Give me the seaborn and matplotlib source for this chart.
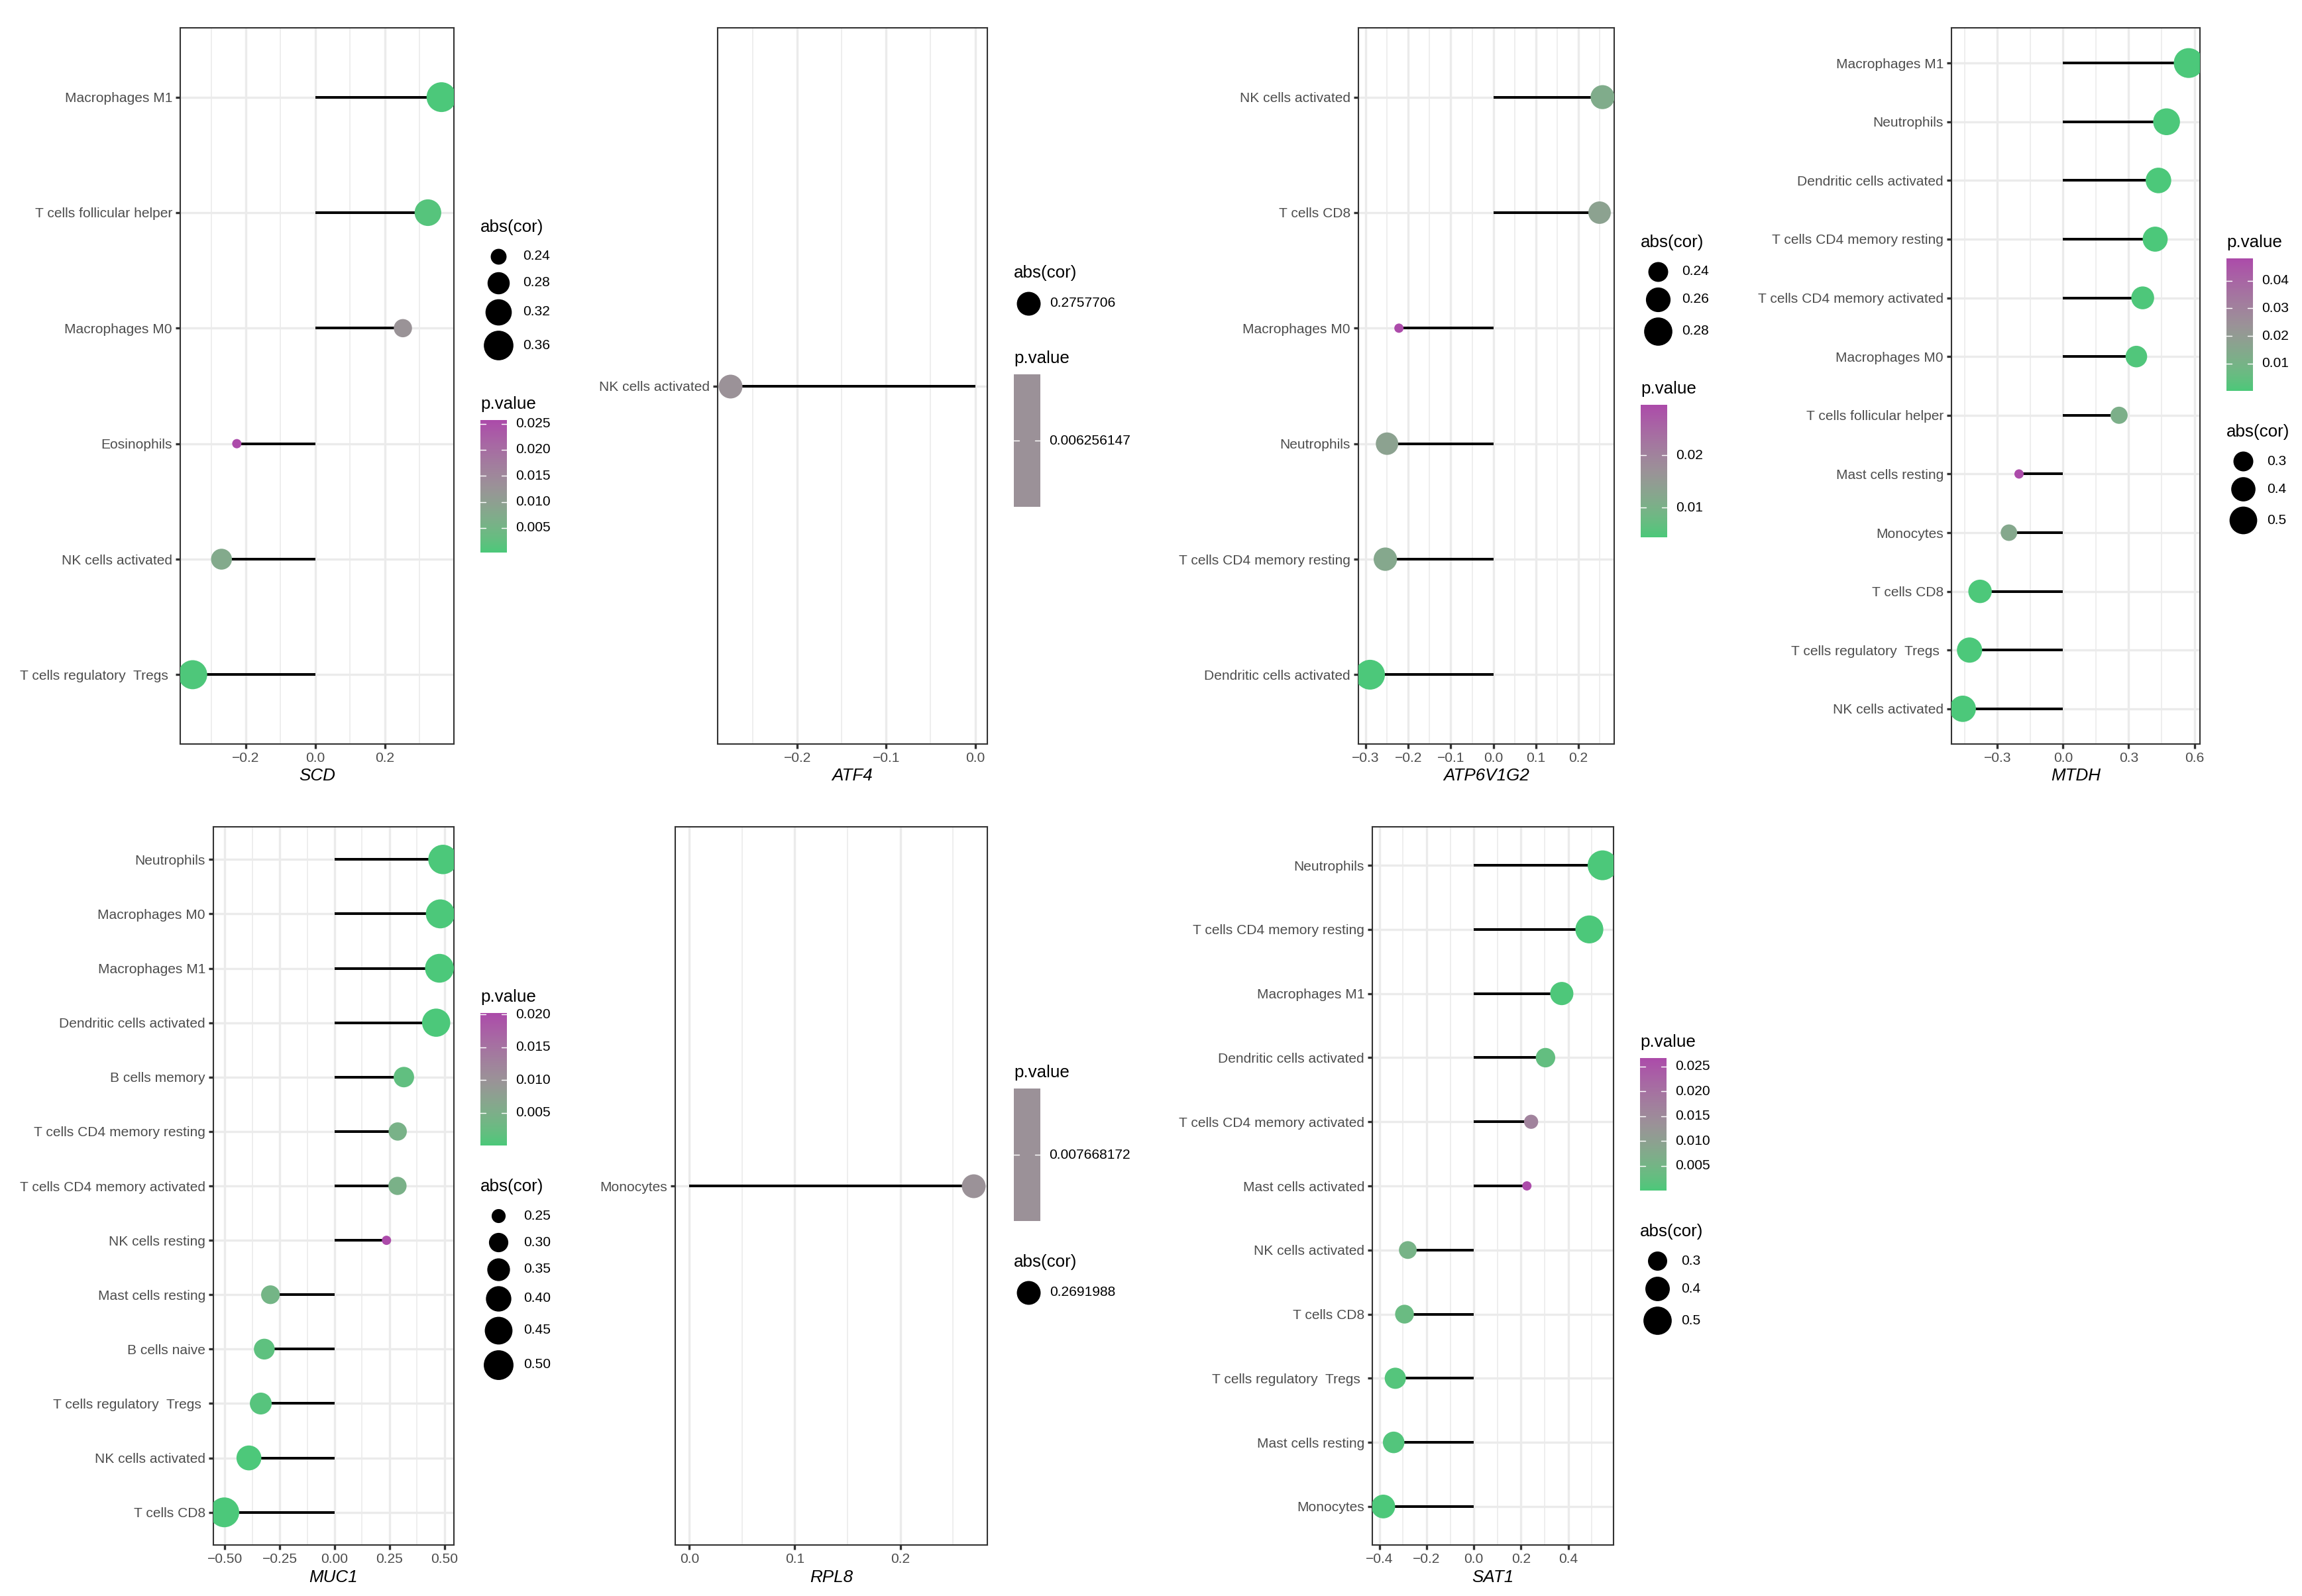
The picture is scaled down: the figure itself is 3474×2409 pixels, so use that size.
import numpy as np
import pandas as pd
import matplotlib
matplotlib.use("Agg")
import matplotlib.pyplot as plt
from matplotlib.colors import ListedColormap
import seaborn as sns

sns.set_theme(style="white")
plt.rcParams['font.family'] = ['Liberation Sans', 'DejaVu Sans']
plt.rcParams['axes.unicode_minus'] = True

# ------------------------------------------------------------------ data
scd_cells = ["Macrophages M1", "T cells follicular helper", "Macrophages M0",
             "Eosinophils", "NK cells activated", "T cells regulatory  Tregs "]
scd_cor = [0.363, 0.324, 0.252, -0.226, -0.270, -0.353]
scd_p = [0.00026, 0.0012, 0.0127, 0.0257, 0.0075, 0.0004]

atf4_cells = ["NK cells activated"]
atf4_cor = [-0.2757706]
atf4_p = [0.006256147]

atp_cells = ["NK cells activated", "T cells CD8", "Macrophages M0", "Neutrophils",
             "T cells CD4 memory resting", "Dendritic cells activated"]
atp_cor = [0.257, 0.250, -0.222, -0.250, -0.254, -0.290]
atp_p = [0.0110, 0.0135, 0.0296, 0.0135, 0.0120, 0.0043]

mtdh_cells = ["Macrophages M1", "Neutrophils", "Dendritic cells activated",
              "T cells CD4 memory resting", "T cells CD4 memory activated",
              "Macrophages M0", "T cells follicular helper", "Mast cells resting",
              "Monocytes", "T cells CD8", "T cells regulatory  Tregs ",
              "NK cells activated"]
mtdh_cor = [0.574, 0.473, 0.436, 0.421, 0.364, 0.335, 0.256, -0.201, -0.247,
            -0.379, -0.427, -0.458]
mtdh_p = [1e-9, 1e-6, 8e-6, 2e-5, 0.00025, 0.0008, 0.0114, 0.0480, 0.0147,
          0.00013, 1.3e-5, 2.4e-6]

muc1_cells = ["Neutrophils", "Macrophages M0", "Macrophages M1",
              "Dendritic cells activated", "B cells memory",
              "T cells CD4 memory resting", "T cells CD4 memory activated",
              "NK cells resting", "Mast cells resting", "B cells naive",
              "T cells regulatory  Tregs ", "NK cells activated", "T cells CD8"]
muc1_cor = [0.493, 0.481, 0.477, 0.462, 0.315, 0.287, 0.286, 0.236, -0.292,
            -0.320, -0.336, -0.390, -0.502]
muc1_p = [3e-7, 6e-7, 8e-7, 2e-6, 0.0017, 0.0044, 0.0045, 0.0202, 0.0037,
          0.0014, 0.0008, 8e-5, 2e-7]

rpl8_cells = ["Monocytes"]
rpl8_cor = [0.2691988]
rpl8_p = [0.007668172]

sat1_cells = ["Neutrophils", "T cells CD4 memory resting", "Macrophages M1",
              "Dendritic cells activated", "T cells CD4 memory activated",
              "Mast cells activated", "NK cells activated", "T cells CD8",
              "T cells regulatory  Tregs ", "Mast cells resting", "Monocytes"]
sat1_cor = [0.546, 0.490, 0.373, 0.304, 0.243, 0.225, -0.280, -0.294,
            -0.333, -0.340, -0.384]
sat1_p = [1e-8, 4e-7, 0.00017, 0.0025, 0.0165, 0.0267, 0.0055, 0.0035,
          0.0009, 0.0007, 0.0001]

# axis ticks / legend breaks
scd_xt = [-0.2, 0.0, 0.2]; scd_xl = ["-0.2", "0.0", "0.2"]; scd_xm = [-0.3, -0.1, 0.1, 0.3]
atf4_xt = [-0.2, -0.1, 0.0]; atf4_xl = ["-0.2", "-0.1", "0.0"]; atf4_xm = [-0.25, -0.15, -0.05]
atp_xt = [-0.3, -0.2, -0.1, 0.0, 0.1, 0.2]; atp_xl = ["-0.3", "-0.2", "-0.1", "0.0", "0.1", "0.2"]
atp_xm = [-0.25, -0.15, -0.05, 0.05, 0.15, 0.25]
mtdh_xt = [-0.3, 0.0, 0.3, 0.6]; mtdh_xl = ["-0.3", "0.0", "0.3", "0.6"]; mtdh_xm = [-0.45, -0.15, 0.15, 0.45]
muc1_xt = [-0.5, -0.25, 0.0, 0.25, 0.5]; muc1_xl = ["-0.50", "-0.25", "0.00", "0.25", "0.50"]
muc1_xm = [-0.375, -0.125, 0.125, 0.375]
rpl8_xt = [0.0, 0.1, 0.2]; rpl8_xl = ["0.0", "0.1", "0.2"]; rpl8_xm = [0.05, 0.15, 0.25]
sat1_xt = [-0.4, -0.2, 0.0, 0.2, 0.4]; sat1_xl = ["-0.4", "-0.2", "0.0", "0.2", "0.4"]
sat1_xm = [-0.3, -0.1, 0.1, 0.3, 0.5]

scd_sb = [0.24, 0.28, 0.32, 0.36]; scd_sl = ["0.24", "0.28", "0.32", "0.36"]
scd_pb = [0.005, 0.010, 0.015, 0.020, 0.025]; scd_pl = ["0.005", "0.010", "0.015", "0.020", "0.025"]
atf4_sb = [0.2757706]; atf4_sl = ["0.2757706"]
atf4_pb = [0.006256147]; atf4_pl = ["0.006256147"]
atp_sb = [0.24, 0.26, 0.28]; atp_sl = ["0.24", "0.26", "0.28"]
atp_pb = [0.01, 0.02]; atp_pl = ["0.01", "0.02"]
mtdh_sb = [0.3, 0.4, 0.5]; mtdh_sl = ["0.3", "0.4", "0.5"]
mtdh_pb = [0.01, 0.02, 0.03, 0.04]; mtdh_pl = ["0.01", "0.02", "0.03", "0.04"]
muc1_sb = [0.25, 0.30, 0.35, 0.40, 0.45, 0.50]
muc1_sl = ["0.25", "0.30", "0.35", "0.40", "0.45", "0.50"]
muc1_pb = [0.005, 0.010, 0.015, 0.020]; muc1_pl = ["0.005", "0.010", "0.015", "0.020"]
rpl8_sb = [0.2691988]; rpl8_sl = ["0.2691988"]
rpl8_pb = [0.007668172]; rpl8_pl = ["0.007668172"]
sat1_sb = [0.3, 0.4, 0.5]; sat1_sl = ["0.3", "0.4", "0.5"]
sat1_pb = [0.005, 0.010, 0.015, 0.020, 0.025]; sat1_pl = ["0.005", "0.010", "0.015", "0.020", "0.025"]

LOW_COL = (76, 200, 122)
MID_COL = (155, 146, 152)
HIGH_COL = (172, 75, 170)

# ------------------------------------------------------------------ helpers
W, H = 3474, 2409
DPI = 300
PX = 72.0 / DPI

_M = np.array([[0.4124564, 0.3575761, 0.1804375],
               [0.2126729, 0.7151522, 0.0721750],
               [0.0193339, 0.1191920, 0.9503041]])
_WHITE = np.array([0.95047, 1.0, 1.08883])


def _lin(c):
    c = np.asarray(c, float)
    return np.where(c <= 0.04045, c / 12.92, ((c + 0.055) / 1.055) ** 2.4)


def _gam(c):
    c = np.clip(c, 0, 1)
    return np.where(c <= 0.0031308, 12.92 * c, 1.055 * c ** (1 / 2.4) - 0.055)


def rgb2lab(rgb):
    xyz = _M @ _lin(np.asarray(rgb, float) / 255.0) / _WHITE
    e = 6 / 29
    f = np.where(xyz > e ** 3, np.cbrt(xyz), xyz / (3 * e ** 2) + 4 / 29)
    return np.array([116 * f[1] - 16, 500 * (f[0] - f[1]), 200 * (f[1] - f[2])])


def lab2rgb(lab):
    L, a, b = lab
    fy = (L + 16) / 116
    f = np.array([fy + a / 500, fy, fy - b / 200])
    e = 6 / 29
    xyz = np.where(f > e, f ** 3, 3 * e ** 2 * (f - 4 / 29)) * _WHITE
    return tuple(np.clip(_gam(np.linalg.solve(_M, xyz)), 0, 1))


_LAB_LO = rgb2lab(LOW_COL)
_LAB_MID = rgb2lab(MID_COL)
_LAB_HI = rgb2lab(HIGH_COL)


def grad_col(t):
    if t <= 0.5:
        return lab2rgb(_LAB_LO + (t / 0.5) * (_LAB_MID - _LAB_LO))
    return lab2rgb(_LAB_MID + ((t - 0.5) / 0.5) * (_LAB_HI - _LAB_MID))


CMAP = ListedColormap([grad_col(t) for t in np.linspace(0, 1, 256)])

GRID = "#EBEBEB"
DARK = "#333333"
TICKTXT = "#4D4D4D"
FS_TICK = 5.05
FS_TITLE = 6.25

fig = plt.figure(figsize=(W / DPI, H / DPI), dpi=DPI, facecolor="white")

panels = [
    dict(cells=scd_cells, cor=scd_cor, p=scd_p, gene="SCD", box=(272, 42, 685, 1123),
         xt=scd_xt, xl=scd_xl, xm=scd_xm, sb=scd_sb, sl=scd_sl, pb=scd_pb, pl=scd_pl,
         order=["size", "col"]),
    dict(cells=atf4_cells, cor=atf4_cor, p=atf4_p, gene="ATF4", box=(1083, 42, 1490, 1123),
         xt=atf4_xt, xl=atf4_xl, xm=atf4_xm, sb=atf4_sb, sl=atf4_sl, pb=atf4_pb, pl=atf4_pl,
         order=["size", "col"]),
    dict(cells=atp_cells, cor=atp_cor, p=atp_p, gene="ATP6V1G2", box=(2050, 42, 2436, 1123),
         xt=atp_xt, xl=atp_xl, xm=atp_xm, sb=atp_sb, sl=atp_sl, pb=atp_pb, pl=atp_pl,
         order=["size", "col"]),
    dict(cells=mtdh_cells, cor=mtdh_cor, p=mtdh_p, gene="MTDH", box=(2945, 42, 3320, 1123),
         xt=mtdh_xt, xl=mtdh_xl, xm=mtdh_xm, sb=mtdh_sb, sl=mtdh_sl, pb=mtdh_pb, pl=mtdh_pl,
         order=["col", "size"]),
    dict(cells=muc1_cells, cor=muc1_cor, p=muc1_p, gene="MUC1", box=(322, 1248, 685, 2332),
         xt=muc1_xt, xl=muc1_xl, xm=muc1_xm, sb=muc1_sb, sl=muc1_sl, pb=muc1_pb, pl=muc1_pl,
         order=["col", "size"]),
    dict(cells=rpl8_cells, cor=rpl8_cor, p=rpl8_p, gene="RPL8", box=(1019, 1248, 1490, 2332),
         xt=rpl8_xt, xl=rpl8_xl, xm=rpl8_xm, sb=rpl8_sb, sl=rpl8_sl, pb=rpl8_pb, pl=rpl8_pl,
         order=["col", "size"]),
    dict(cells=sat1_cells, cor=sat1_cor, p=sat1_p, gene="SAT1", box=(2071, 1248, 2435, 2332),
         xt=sat1_xt, xl=sat1_xl, xm=sat1_xm, sb=sat1_sb, sl=sat1_sl, pb=sat1_pb, pl=sat1_pl,
         order=["col", "size"]),
]

legend_items = []

for spec in panels:
    x0, y0, x1, y1 = spec["box"]
    ax = fig.add_axes([x0 / W, 1 - y1 / H, (x1 - x0) / W, (y1 - y0) / H])
    n = len(spec["cells"])
    df = pd.DataFrame({"cell": spec["cells"], "cor": spec["cor"], "p": spec["p"]})
    df["abs"] = df["cor"].abs()
    df["pos"] = n - 1 - np.arange(n)
    pmin, pmax = df["p"].min(), df["p"].max()
    amin, amax = df["abs"].min(), df["abs"].max()

    def tcol(v, pmin=pmin, pmax=pmax):
        return 0.5 if pmax == pmin else (v - pmin) / (pmax - pmin)

    def diam(v, amin=amin, amax=amax):
        t = 0.5 if amax == amin else (v - amin) / (amax - amin)
        t = min(max(t, 0.0), 1.0)
        return 14 + 31 * np.sqrt(t)

    pal = {v: grad_col(tcol(v)) for v in df["p"].unique()}
    sizes = {v: (diam(v) * PX) ** 2 for v in df["abs"].unique()}

    ax.hlines(df["pos"], 0, df["cor"], color="black", lw=0.95, zorder=2)
    sns.scatterplot(data=df, x="cor", y="pos", hue="p", palette=pal, size="abs",
                    sizes=sizes, legend=False, linewidth=0, ax=ax, zorder=3)

    lo = min(df["cor"].min(), 0.0)
    hi = max(df["cor"].max(), 0.0)
    pad = 0.05 * (hi - lo)
    ax.set_xlim(lo - pad, hi + pad)
    ax.set_ylim(-0.6, n - 0.4)

    ax.set_xticks(spec["xt"])
    ax.set_xticklabels([s.replace("-", "\u2212") for s in spec["xl"]])
    ax.set_xticks(spec["xm"], minor=True)
    ax.set_yticks(df["pos"])
    ax.set_yticklabels(df["cell"])
    ax.grid(which="major", color=GRID, lw=0.8)
    ax.grid(which="minor", axis="x", color=GRID, lw=0.4)
    ax.set_axisbelow(True)
    ax.tick_params(which="major", length=1.7, width=0.8, color=DARK, labelsize=FS_TICK,
                   labelcolor=TICKTXT, pad=1.2, bottom=True, left=True)
    ax.tick_params(which="minor", length=0)
    for sp in ax.spines.values():
        sp.set_color(DARK)
        sp.set_linewidth(0.5)
    ax.set_xlabel(spec["gene"], fontsize=FS_TITLE, fontstyle="italic", color="black", labelpad=1.3)
    ax.set_ylabel("")

    legend_items.append((spec, pmin, pmax, diam))

# ------------------------------------------------------------------ legends
lg = fig.add_axes([0, 0, 1, 1], zorder=10)
lg.axis("off")

for spec, pmin, pmax, diam in legend_items:
    x0, y0, x1, y1 = spec["box"]
    left = x1 + 40
    heights = []
    for kind in spec["order"]:
        if kind == "size":
            heights.append(36 + sum(max(40, 1.2 * diam(b)) for b in spec["sb"]))
        else:
            heights.append(36 + 200)
    total = sum(heights) + 50 * (len(heights) - 1)
    top = (y0 + y1) / 2 - total / 2
    for kind, hgt in zip(spec["order"], heights):
        if kind == "size":
            lg.text(left, top + 12, "abs(cor)", fontsize=FS_TITLE, ha="left", va="center", color="black")
            kw = max(40, 1.2 * max(diam(b) for b in spec["sb"]))
            y = top + 36
            for b, lab in zip(spec["sb"], spec["sl"]):
                d = diam(b)
                kh = max(40, 1.2 * d)
                cy = y + kh / 2
                lg.scatter([left + kw / 2], [cy], s=(d * PX) ** 2, color="black", linewidths=0)
                lg.text(left + kw + 11, cy, lab, fontsize=FS_TICK, ha="left", va="center", color="black")
                y += kh
        else:
            lg.text(left, top + 12, "p.value", fontsize=FS_TITLE, ha="left", va="center", color="black")
            ytop = top + 36
            ybot = ytop + 200
            if pmax == pmin:
                arr = np.full((300, 1), 0.5)
            else:
                arr = np.linspace(0, 1, 300).reshape(-1, 1)
            lg.imshow(arr, cmap=CMAP, vmin=0, vmax=1, extent=(left, left + 40, ybot, ytop),
                      origin="lower", aspect="auto", interpolation="bilinear")
            for b, lab in zip(spec["pb"], spec["pl"]):
                f = 0.5 if pmax == pmin else (b - pmin) / (pmax - pmin)
                ty = ybot - f * 200
                lg.plot([left, left + 8], [ty, ty], color="white", lw=0.35)
                lg.plot([left + 32, left + 40], [ty, ty], color="white", lw=0.35)
                lg.text(left + 53, ty, lab, fontsize=FS_TICK, ha="left", va="center", color="black")
        top += hgt + 50

lg.set_xlim(0, W)
lg.set_ylim(H, 0)

fig.savefig("out.png", dpi=DPI, facecolor="white")
